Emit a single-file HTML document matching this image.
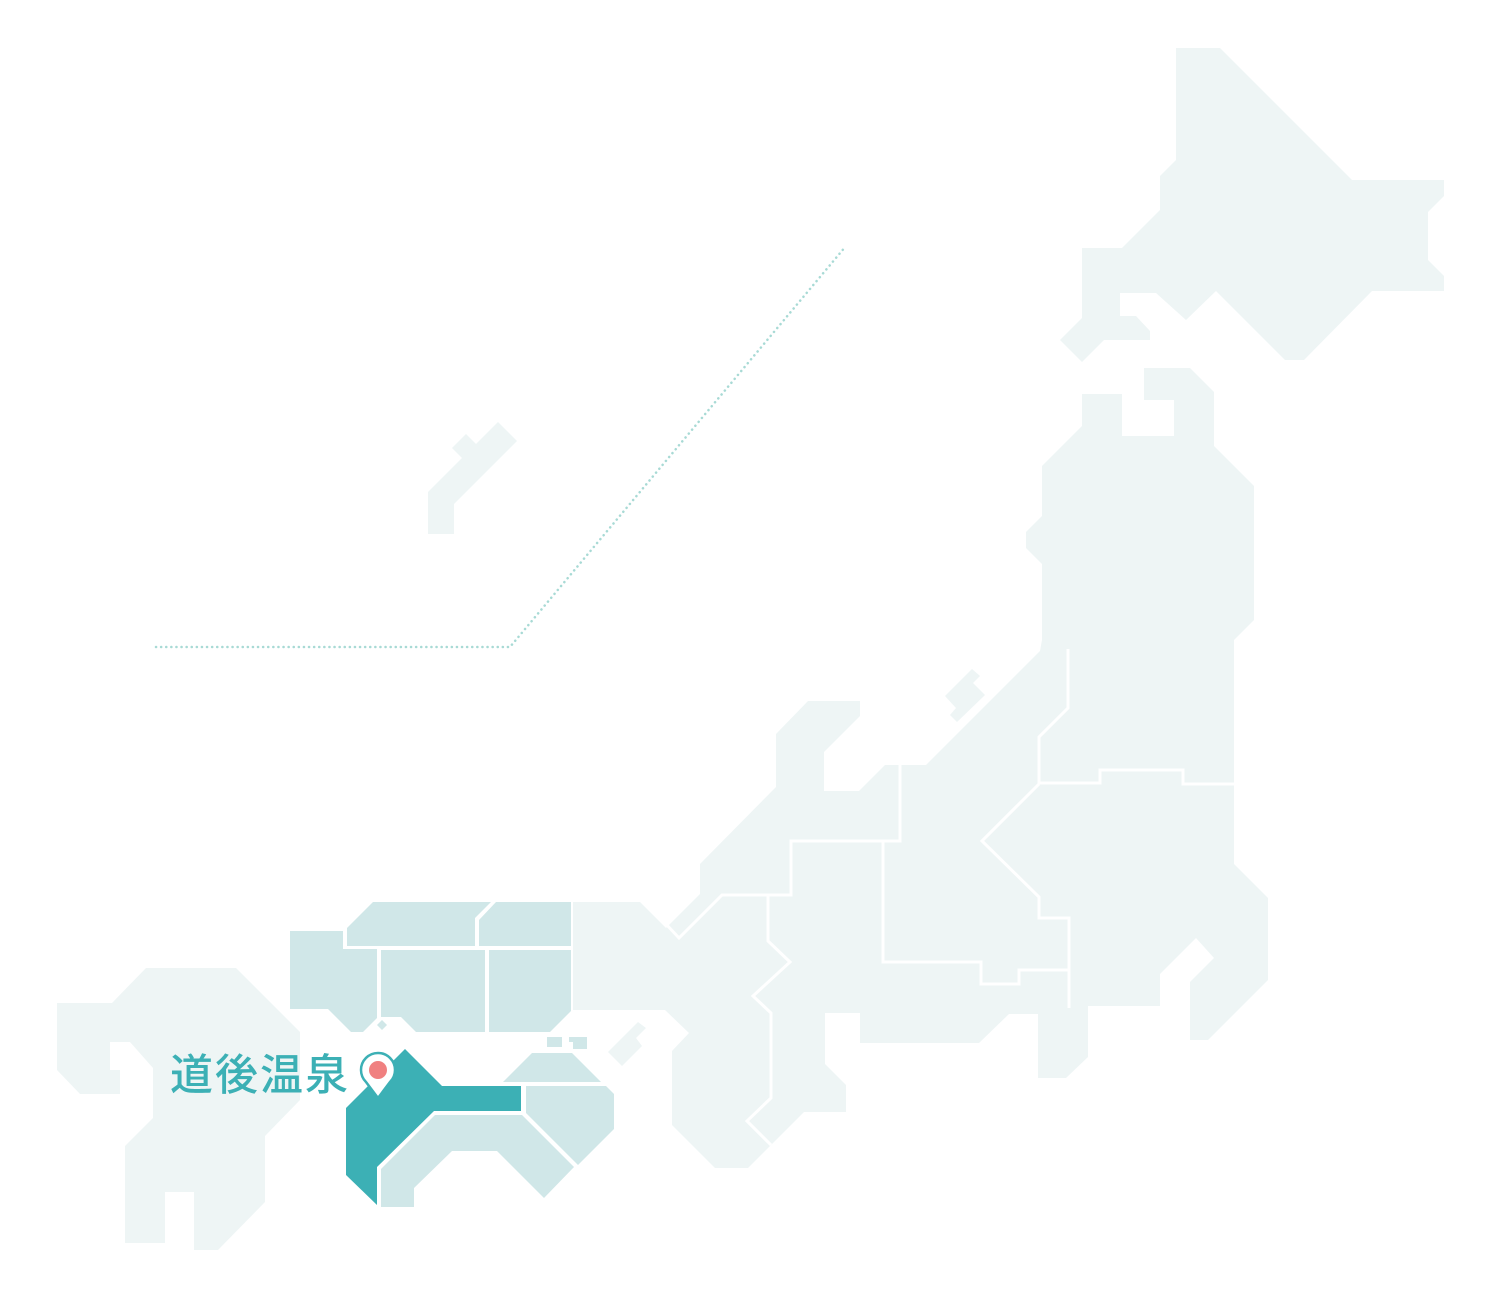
<!DOCTYPE html>
<html><head><meta charset="utf-8"><style>
html,body{margin:0;padding:0;background:#fff;width:1500px;height:1300px;overflow:hidden}
svg{display:block}
</style></head><body>
<svg width="1500" height="1300" viewBox="0 0 1500 1300" xmlns="http://www.w3.org/2000/svg">
<g fill="#eef5f5">
<polygon points="1176,48 1220,48 1352,180 1444,180 1444,196 1428,212 1428,260 1444,276 1444,291 1372,291 1304,360 1285,360 1216,291 1186,320 1156,293 1120,293 1120,316 1136,316 1150,331 1150,340 1104,340 1082,362 1060,340 1082,318 1082,248 1122,248 1160,210 1160,176 1176,160"/>
<polygon points="428,492 462,458 452,448 466,434 476,444 498,422 517,441 454,504 454,534 428,534"/>
<polygon points="972,669 980,676 973,683 985,695 957,722 950,715 956,708 945,696"/>
<polygon points="1082,394 1122,394 1122,436 1174,436 1174,400 1144,400 1144,368 1190,368 1214,392 1214,446 1254,486 1254,620 1234,640 1234,864 1268,898 1268,980 1208,1040 1190,1040 1190,982 1214,958 1196,938 1160,974 1160,1006 1088,1006 1088,1057 1066,1078 1038,1078 1038,1014 1009,1014 979,1043 860,1043 860,1013 825,1013 825,1064 846,1085 846,1112 804,1112 771,1145 748,1168 715,1168 672,1125 672,1051 689,1033 665,1010 573,1010 573,902 640,902 666,928 700,894 700,864 776,787 776,734 808,701 860,701 860,716 824,752 824,791 859,791 885,765 926,765 1040,651 1042,640 1042,564 1026,548 1026,532 1042,516 1042,466 1082,426"/>
<polygon points="57,1003 112,1003 146,968 236,968 300,1032 300,1100 265,1136 265,1202 218,1250 194,1250 194,1192 165,1192 165,1243 125,1243 125,1146 153,1118 153,1068 130,1042 110,1042 110,1070 120,1070 120,1094 80,1094 57,1070"/>
<polygon points="608,1052 638,1022 646,1028 636,1038 642,1046 622,1066"/>
</g>
<g fill="none" stroke="#fff" stroke-width="3">
<polyline points="1068,649 1068,708 1039,737 1039,783 1100,783 1100,770 1183,770 1183,784 1234,784"/>
<polyline points="1039,784 982,841 1039,897 1039,918 1069,918 1069,1008"/>
<polyline points="900,764 900,841 791,841 791,895 722,895 679,938 665,923"/>
<polyline points="883,841 883,962 981,962 981,984 1019,984 1019,970 1069,970"/>
<polyline points="768,896 768,941 790,962 753,996 771,1013 771,1098 747,1121 771,1145"/>
</g>
<g fill="#d0e7e8">
<polygon points="290,931 343,931 343,949 377,949 377,1018 363,1032 351,1032 328,1009 290,1009"/>
<polygon points="347,928 373,902 491,902 475,918 475,946 347,946"/>
<polygon points="479,920 496,902 571,902 571,946 479,946"/>
<polygon points="381,950 485,950 485,1032 416,1032 401,1017 381,1017"/>
<polygon points="489,950 571,950 571,1011 550,1032 489,1032"/>
<polygon points="382,1016 387,1021 382,1026 377,1021" transform="translate(0,4)"/>
<polygon points="381,1169 435,1115 522,1115 574,1167 544,1198 497,1151 452,1151 414,1188 414,1207 381,1207"/>
<polygon points="526,1086 606,1086 614,1094 614,1129 578,1165 526,1113"/>
<polygon points="503,1082 532,1053 572,1053 601,1082"/>
<rect x="547" y="1037" width="15" height="10"/>
<polygon points="569,1037 587,1037 587,1049 573,1049 573,1042 569,1042"/>
</g>
<polygon fill="#3cb0b5" points="346,1108 405,1049 442,1086 521,1086 521,1111 434,1111 377,1167 377,1205 346,1175"/>
<polyline points="156,647 510,647 846,246" fill="none" stroke="#a8dad5" stroke-width="2.5" stroke-dasharray="0.1 5" stroke-linecap="round"/>
<path d="M378,1098 L366,1082 A17,17 0 1 1 390,1082 Z" fill="#fff" stroke="#3cb0b5" stroke-width="2.5" stroke-linejoin="round"/>
<circle cx="378" cy="1070" r="9" fill="#f08080"/>
<text x="170" y="1090" font-family="'Liberation Sans','Noto Sans CJK JP',sans-serif" font-size="43" font-weight="500" fill="#3cb0b5" letter-spacing="2">道後温泉</text>
</svg>
</body></html>
